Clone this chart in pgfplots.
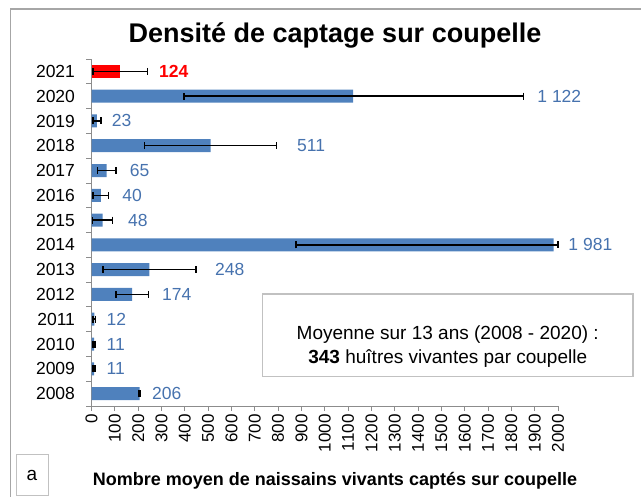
\documentclass[border=0pt]{standalone}
\usepackage{fontspec}
\setmainfont{Liberation Sans}
\usepackage{pgfplots}
\pgfplotsset{compat=1.18}
\usepackage{pgfplotstable}

\definecolor{barblue}{HTML}{4F81BD}
\definecolor{labblue}{HTML}{4672AE}
\definecolor{framegray}{HTML}{A6A6A6}
\definecolor{axisgray}{HTML}{8C8C8C}
\definecolor{capred}{HTML}{FF0000}

% year, mean, error +/-, x where the value label starts, label text
\pgfplotstableread[col sep=comma]{
year,val,ep,em,lx,lab
2008,206,2,2,259,206
2009,11,4,4,64,11
2010,11,4,4,64,11
2011,12,5,5,64,12
2012,174,70,70,302,174
2013,248,199,199,529,248
2014,1981,19,1104,2044,{1 981}
2015,48,43,43,156,48
2016,40,33,33,132,40
2017,65,40,40,164,65
2018,511,283,283,881,511
2019,23,17,17,87,23
2020,1122,730,725,1911,{1 122}
}\captage

\pgfplotsset{errstyle/.style={
  error bars/.cd, x dir=both, x explicit, error mark=|,
  error bar style={black, line width=1.5pt},
  error mark options={black, line width=1.5pt, mark size=3.5pt}}}

\begin{document}
\begin{tikzpicture}[x=1pt,y=1pt]
\path[use as bounding box] (0,0) rectangle (641,497);
\draw[framegray, line width=1.2pt] (10.5,-5) -- (10.5,488) -- (650,488);
\node[font=\fontsize{27}{30}\selectfont\bfseries] at (335,462) {Densité de captage sur coupelle};

\begin{axis}[
  at={(91.5pt,91pt)}, anchor=south west,
  scale only axis, width=466.5pt, height=347pt,
  xmin=0, xmax=2000, ymin=2007.5, ymax=2021.5,
  clip=false,
  axis x line*=bottom, axis y line*=left,
  axis line style={-, draw=axisgray, line width=0.8pt},
  xtick={0,100,...,2000},
  ytick={2008,...,2021},
  minor ytick={2007.5,2008.5,...,2021.5},
  tick align=outside,
  major tick length=5pt, minor tick length=5pt,
  tick style={axisgray, line width=0.8pt},
  every major y tick/.append style={draw=none},
  xticklabel style={rotate=90, anchor=east, font=\fontsize{17}{17}\selectfont},
  yticklabel style={font=\fontsize{17.5}{17.5}\selectfont, xshift=-8pt},
  /pgf/number format/1000 sep={},
  /pgf/number format/assume math mode=true,
]
\addplot[xbar, bar width=13pt, fill=barblue, draw=none, errstyle]
  table[x=val, y=year, x error plus=ep, x error minus=em]{\captage};
\addplot[xbar, bar width=13pt, fill=capred, draw=none, errstyle]
  coordinates {(124,2021) +- (117,0)};
\addplot[draw=none, mark=none, nodes near coords, point meta=explicit symbolic,
  every node near coord/.append style={anchor=west, inner sep=0pt, text=labblue,
    font=\fontsize{17.5}{17.5}\selectfont}]
  table[x=lx, y=year, meta=lab]{\captage};
\addplot[draw=none, mark=none, nodes near coords, point meta=explicit symbolic,
  every node near coord/.append style={anchor=west, inner sep=0pt, text=capred,
    font=\fontsize{17.5}{17.5}\selectfont\bfseries}]
  coordinates {(289,2021) [124]};
\end{axis}

\draw[framegray!70, line width=1.5pt] (262.5,120.5) rectangle (633,203);
\node[font=\fontsize{19}{24}\selectfont, align=center] at (447.75,150)
  {Moyenne sur 13 ans (2008 - 2020) :\\\textbf{343} huîtres vivantes par coupelle};

\draw[framegray!70, line width=1pt] (16,1) rectangle (48,42);
\node[font=\fontsize{19}{19}\selectfont] at (32,21.5) {a};
\node[font=\fontsize{18}{18}\selectfont\bfseries] at (335,16)
  {Nombre moyen de naissains vivants captés sur coupelle};
\end{tikzpicture}
\end{document}
